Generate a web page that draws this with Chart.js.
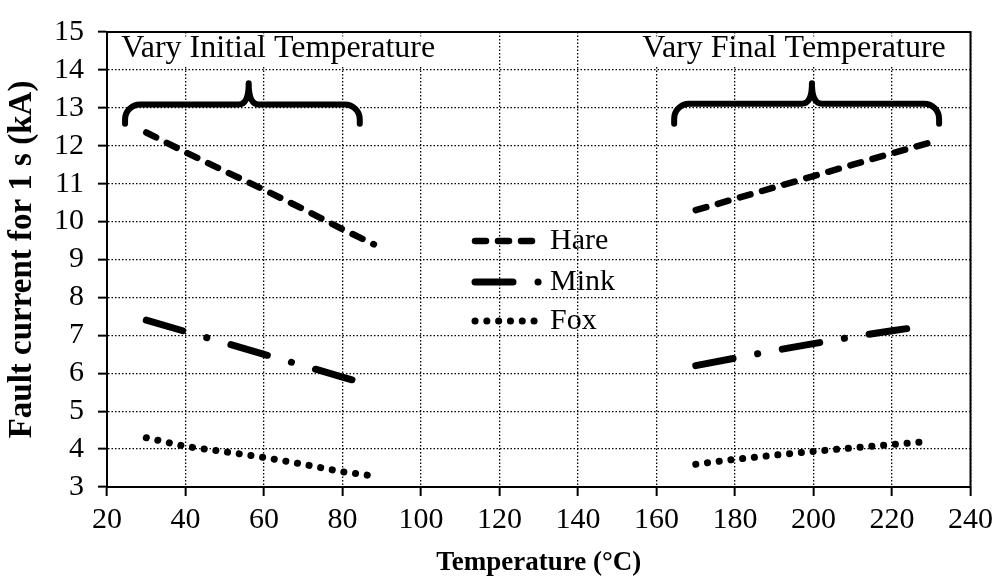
<!DOCTYPE html>
<html>
<head>
<meta charset="utf-8">
<script src="https://cdn.jsdelivr.net/npm/chart.js@4.4.1/dist/chart.umd.min.js"></script>
<style>
  body { margin: 0; background: #fff; }
  #chart { display: block; }
</style>
</head>
<body>
<canvas id="chart" width="999" height="585"></canvas>
<script>
// tick labels
const xTickValues = [20, 40, 60, 80, 100, 120, 140, 160, 180, 200, 220, 240]
const yTickValues = [3, 4, 5, 6, 7, 8, 9, 10, 11, 12, 13, 14, 15]

// Hare
const hareInitialT = [30, 40, 50, 60, 70, 80, 88]
const hareInitialI = [12.35, 11.83, 11.33, 10.84, 10.33, 9.8, 9.4]
const hareFinalT = [170, 180, 190, 200, 210, 220, 231]
const hareFinalI = [10.3, 10.6, 10.9, 11.2, 11.5, 11.8, 12.12]

// Mink
const minkInitialT = [30, 40, 50, 60, 70, 80, 85]
const minkInitialI = [7.4, 7.1, 6.8, 6.5, 6.2, 5.9, 5.75]
const minkFinalT = [170, 180, 190, 200, 210, 220, 226]
const minkFinalI = [6.2, 6.4, 6.6, 6.78, 6.96, 7.12, 7.21]

// Fox
const foxInitialT = [30, 40, 50, 60, 70, 80, 88]
const foxInitialI = [4.3, 4.07, 3.93, 3.78, 3.6, 3.4, 3.29]
const foxFinalT = [170, 180, 190, 200, 210, 220, 228]
const foxFinalI = [3.6, 3.73, 3.84, 3.94, 4.03, 4.12, 4.19]

const seriesNames = ['Hare', 'Mink', 'Fox']

// 괄호 + 설명 글자 (데이터 좌표)
const notes = [
  { text: 'Vary Initial Temperature', x: 23.6, y: 14.62, x0: 24.6, x1: 84.4, xm: 56.1, y0: 13.09, yEnd: 12.58, yTip: 13.65 },
  { text: 'Vary Final Temperature', x: 156.4, y: 14.62, x0: 164.5, x1: 232, xm: 199.6, y0: 13.11, yEnd: 12.58, yTip: 13.65 },
]

const serif = "'Liberation Serif', 'Times New Roman', serif"
Chart.defaults.font.family = serif
Chart.defaults.color = '#000'

const styles = {
  Hare: { borderWidth: 6.5, borderDash: [11, 12] },
  Mink: { borderWidth: 7, borderDash: [38, 25, 0.1, 25] },
  Fox: { borderWidth: 7, borderDash: [0.1, 11.7] },
}

function toPoints(xs, ys) {
  return xs.map((x, i) => ({ x: x, y: ys[i] }))
}

function makeSet(name, xs, ys) {
  return {
    label: name,
    data: toPoints(xs, ys),
    borderColor: '#000',
    borderWidth: styles[name].borderWidth,
    borderDash: styles[name].borderDash,
    borderCapStyle: 'round',
    pointRadius: 0,
    tension: 0,
    fill: false,
  }
}

const datasets = [
  makeSet('Hare', hareInitialT, hareInitialI),
  makeSet('Hare', hareFinalT, hareFinalI),
  makeSet('Mink', minkInitialT, minkInitialI),
  makeSet('Mink', minkFinalT, minkFinalI),
  makeSet('Fox', foxInitialT, foxInitialI),
  makeSet('Fox', foxFinalT, foxFinalI),
]

// 바깥 테두리
const framePlugin = {
  id: 'frame',
  afterDraw(chart) {
    const { ctx, chartArea: a } = chart
    ctx.save()
    ctx.strokeStyle = '#000'
    ctx.lineWidth = 2
    ctx.strokeRect(a.left, a.top, a.right - a.left, a.bottom - a.top)
    ctx.restore()
  }
}

// 괄호 그리기
const bracePlugin = {
  id: 'braces',
  afterDatasetsDraw(chart) {
    const { ctx } = chart
    const xs = chart.scales.x
    const ys = chart.scales.y
    ctx.save()
    notes.forEach(n => {
      // 글자 + 흰 배경
      ctx.font = '32px ' + serif
      ctx.textBaseline = 'middle'
      ctx.textAlign = 'left'
      const tx = xs.getPixelForValue(n.x)
      const ty = ys.getPixelForValue(n.y)
      const w = ctx.measureText(n.text).width
      ctx.fillStyle = '#fff'
      ctx.fillRect(tx - 8, ty - 10, w + 16, 30)
      ctx.fillStyle = '#000'
      ctx.fillText(n.text, tx, ty + 2)

      const x0 = xs.getPixelForValue(n.x0)
      const x1 = xs.getPixelForValue(n.x1)
      const xm = xs.getPixelForValue(n.xm)
      const y = ys.getPixelForValue(n.y0)
      const yEnd = ys.getPixelForValue(n.yEnd)
      const yTip = ys.getPixelForValue(n.yTip)
      ctx.strokeStyle = '#000'
      ctx.lineWidth = 6
      ctx.lineCap = 'round'
      ctx.lineJoin = 'round'
      ctx.setLineDash([])
      ctx.beginPath()
      ctx.moveTo(x0, yEnd)
      ctx.arcTo(x0, y, x0 + 20, y, 15)
      ctx.lineTo(xm - 10, y)
      ctx.quadraticCurveTo(xm, y, xm, yTip)
      ctx.quadraticCurveTo(xm, y, xm + 10, y)
      ctx.lineTo(x1 - 20, y)
      ctx.arcTo(x1, y, x1, yEnd, 15)
      ctx.lineTo(x1, yEnd)
      ctx.stroke()
    })
    ctx.restore()
  }
}

// 범례 (차트 안쪽)
const legendPlugin = {
  id: 'innerLegend',
  afterDatasetsDraw(chart) {
    const { ctx } = chart
    const rows = [
      { name: 'Hare', y: 241, x1: 534 },
      { name: 'Mink', y: 282, x1: 540 },
      { name: 'Fox', y: 321, x1: 540 },
    ]
    ctx.save()
    rows.forEach(r => {
      const st = styles[r.name]
      ctx.strokeStyle = '#000'
      ctx.lineWidth = st.borderWidth
      ctx.lineCap = 'round'
      ctx.setLineDash(st.borderDash)
      ctx.beginPath()
      ctx.moveTo(475, r.y)
      ctx.lineTo(r.x1, r.y)
      ctx.stroke()
      ctx.setLineDash([])
      ctx.fillStyle = '#000'
      ctx.font = '30px ' + serif
      ctx.textBaseline = 'middle'
      ctx.fillText(r.name, 550, r.y)
    })
    ctx.restore()
  }
}

const config = {
  type: 'line',
  data: { datasets: datasets },
  options: {
    responsive: false,
    animation: false,
    layout: { padding: { top: 25, right: 27, left: 0, bottom: 0 } },
    plugins: {
      legend: { display: false },
      tooltip: { enabled: false },
    },
    scales: {
      x: {
        type: 'linear',
        min: 20,
        max: 240,
        afterBuildTicks: s => { s.ticks = xTickValues.map(v => ({ value: v })) },
        afterFit: s => { s.height = 98 },
        ticks: { font: { size: 30 }, padding: 6, maxRotation: 0, autoSkip: false },
        grid: { color: '#000', lineWidth: 1.3, tickLength: 9, tickColor: '#000', tickWidth: 2, tickBorderDash: [] },
        border: { display: true, color: '#000', width: 2, dash: [1.5, 2] },
        title: { display: true, text: 'Temperature (°C)', font: { size: 27, weight: 'bold' }, padding: { top: 0, bottom: 6 } },
      },
      y: {
        min: 3,
        max: 15,
        afterBuildTicks: s => { s.ticks = yTickValues.map(v => ({ value: v })) },
        afterFit: s => { s.width = 107 },
        ticks: { font: { size: 30 }, padding: 14, autoSkip: false },
        grid: { color: '#000', lineWidth: 1.3, tickLength: 9, tickColor: '#000', tickWidth: 2, tickBorderDash: [] },
        border: { display: true, color: '#000', width: 2, dash: [1.5, 2] },
        title: { display: true, text: 'Fault current for 1 s (kA)', font: { size: 33, weight: 'bold' }, padding: { top: 3, bottom: 0 } },
      },
    },
  },
  plugins: [framePlugin, bracePlugin, legendPlugin],
}

let myChart = new Chart(document.getElementById('chart'), config)
</script>
</body>
</html>
